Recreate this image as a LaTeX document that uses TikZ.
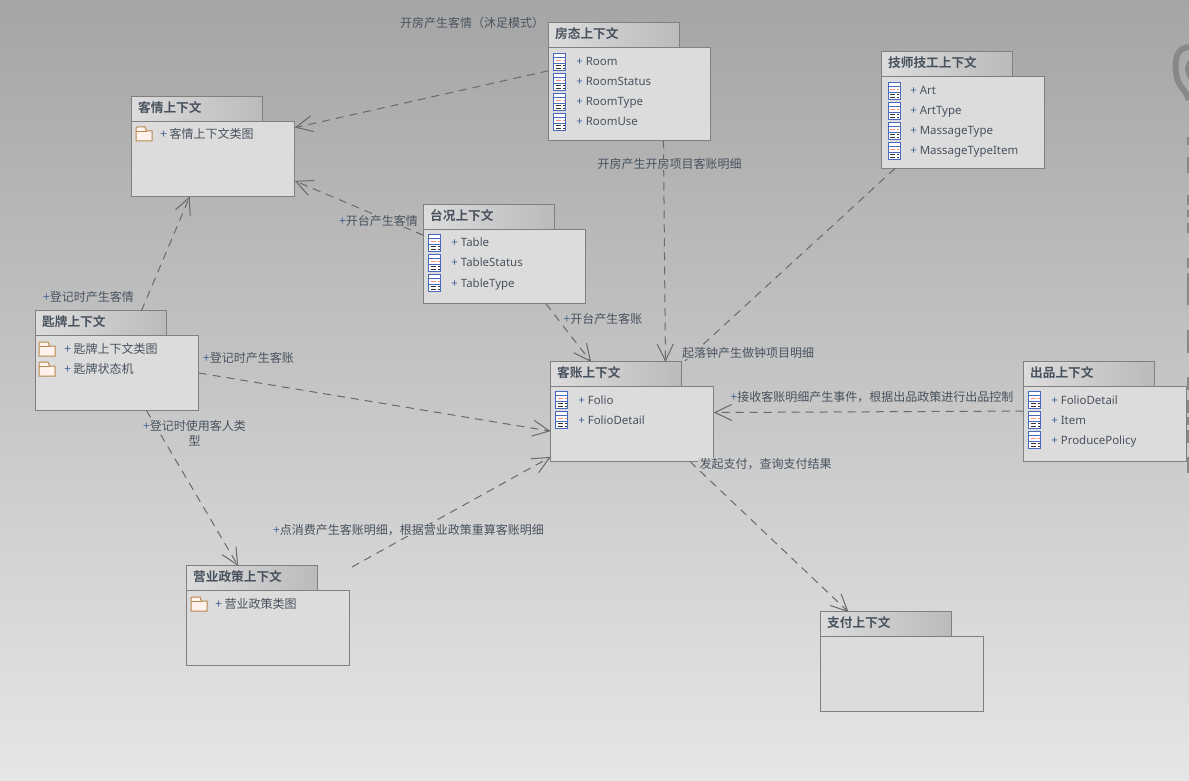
\documentclass[tikz,border=0pt]{standalone}
\usepackage{fontspec}
\usetikzlibrary{arrows.meta}
\setmainfont{Noto Sans}
\newfontfamily\cjk{Noto Sans CJK SC}
\newfontfamily\cjkb{Noto Sans CJK SC Bold}
\definecolor{ink}{RGB}{72,82,94}
\definecolor{plusblue}{RGB}{70,100,150}
\definecolor{edge}{RGB}{128,128,128}
\definecolor{conn}{RGB}{105,105,105}
\definecolor{bodyfill}{RGB}{220,220,220}
\definecolor{iconblue}{RGB}{70,105,190}
\definecolor{foldertan}{RGB}{185,135,80}
\definecolor{folderfill}{RGB}{255,241,235}
\definecolor{scrapgray}{RGB}{136,136,136}
\tikzset{
  pkgbody/.style={draw=edge,line width=.75pt,fill=bodyfill,rectangle,outer sep=0pt,inner sep=0pt,minimum width=122.5pt,anchor=north west},
  narrowbody/.style={minimum width=121.75pt},
  pkgtab/.style={draw=edge,line width=.75pt,left color=bodyfill,right color=black!27,rectangle,outer sep=0pt,inner ysep=0pt,inner xsep=5pt,minimum height=18.4pt,text width=88.6pt,text height=8pt,text depth=3.2pt,align=left,anchor=south west,text=ink,font=\cjkb\fontsize{9.5}{11}\selectfont},
  rowtext/.style={anchor=base west,inner sep=0pt,text=ink,font=\fontsize{8.6}{10}\selectfont},
  rowcjk/.style={anchor=west,inner sep=0pt,text=ink,font=\cjk\fontsize{9}{10}\selectfont},
  lab/.style={inner xsep=1pt,inner ysep=0.5pt,text=ink,font=\cjk\fontsize{9}{11}\selectfont,fill={rgb,255:red,#1;green,#1;blue,#1}},
  labnofill/.style={inner xsep=1pt,inner ysep=0.5pt,text=ink,font=\cjk\fontsize{9}{11}\selectfont},
  dep/.style={draw=conn,line width=.75pt,dash pattern=on 6pt off 4.5pt,-{Straight Barb[length=12.5pt,width=12pt,line width=.75pt]}},
  depplain/.style={draw=conn,line width=.75pt,dash pattern=on 6pt off 4.5pt},
}
\newcommand{\plussign}{\textcolor{plusblue}{+}}
\newcommand{\classtext}{}
\newcommand{\classrow}[4]{% name, icon x, text x, y
  \begin{scope}[shift={(#2,#4+0.8)}]
    \draw[draw=iconblue,fill=white,line width=.7pt] (0,-8.5) rectangle (12,8.5);
    \draw[draw=iconblue,line width=.5pt] (0,-4.5) -- (12,-4.5) (0,1.5) -- (12,1.5);
    \draw[red!45,line width=.6pt] (2,-1.5) -- (7,-1.5) (9,-1.5) -- (11,-1.5);
    \draw[black!80,line width=.6pt] (2,4) -- (7,4) (9,4) -- (11,4) (2,6.5) -- (7,6.5) (9,6.5) -- (11,6.5);
  \end{scope}
  \node[rowtext] (#1) at (#3,#4+5) {\plussign\ \classtext};
}
\newcommand{\folderrow}[5]{% name, icon x, y, text x, text
  \draw[draw=foldertan,fill=folderfill,line width=.75pt,shift={(#2,#3)}] (0,-3) -- (0,-6) -- (1,-7) -- (9,-7) -- (10.5,-3) -- (16,-3) -- (16,7) -- (0,7) -- cycle;
  \draw[draw=foldertan,line width=.5pt,shift={(#2,#3)}] (0,-3) -- (10.5,-3);
  \node[rowcjk] (#1) at (#4,#3) {\plussign\ #5};
}
\begin{document}
\begin{tikzpicture}[x=.75pt,y=-.75pt]
\useasboundingbox (0,0) rectangle (1189,781);
\shade[top color={rgb,255:red,165;green,165;blue,165},bottom color={rgb,255:red,230;green,230;blue,230}] (0,0) rectangle (1189,781);

% partial shapes at the right edge
\begin{scope}
  \clip (0,0) rectangle (1189,781);
  \draw[scrapgray,line width=4.4pt] (1192,47) .. controls (1176,46) and (1174,60) .. (1176.5,76) .. controls (1178,86) and (1186,90) .. (1189,100);
  \draw[scrapgray,line width=3pt] (1192,60) .. controls (1186,64) and (1185,72) .. (1192,80);
  \draw[scrapgray,line width=2pt] (1188.5,137) -- (1188.5,145) (1188.5,157) -- (1188.5,173) (1188.5,195) -- (1188.5,205) (1188.5,210) -- (1188.5,217) (1188.5,223) -- (1188.5,233) (1188.5,258) -- (1188.5,268) (1188.5,273) -- (1188.5,305) (1188.5,330) -- (1188.5,353) (1188.5,377) -- (1188.5,390) (1188.5,400) -- (1188.5,413) (1188.5,417) -- (1188.5,425) (1188.5,430) -- (1188.5,443) (1188.5,457) -- (1188.5,473);
\end{scope}

% packages
\begin{scope}[shift={(0.5,0.5)}]
\node[pkgbody,narrowbody,minimum height=69.75pt] (fangtai) at (548,47) {};
\node[pkgtab] (fangtaiT) at (fangtai.north west) {房态上下文};
\node[pkgbody,minimum height=69pt] (jishi) at (881,76) {};
\node[pkgtab] (jishiT) at (jishi.north west) {技师技工上下文};
\node[pkgbody,minimum height=56.25pt] (keqing) at (131,121) {};
\node[pkgtab] (keqingT) at (keqing.north west) {客情上下文};
\node[pkgbody,narrowbody,minimum height=55.5pt] (taikuang) at (423,229) {};
\node[pkgtab] (taikuangT) at (taikuang.north west) {台况上下文};
\node[pkgbody,minimum height=56.25pt] (shipai) at (35,335) {};
\node[pkgtab] (shipaiT) at (shipai.north west) {匙牌上下文};
\node[pkgbody,minimum height=56.25pt] (kezhang) at (550,386) {};
\node[pkgtab] (kezhangT) at (kezhang.north west) {客账上下文};
\node[pkgbody,minimum height=56.25pt] (chupin) at (1023,386) {};
\node[pkgtab] (chupinT) at (chupin.north west) {出品上下文};
\node[pkgbody,minimum height=56.25pt] (yingye) at (186,590) {};
\node[pkgtab] (yingyeT) at (yingye.north west) {营业政策上下文};
\node[pkgbody,minimum height=56.25pt] (zhifu) at (820,636) {};
\node[pkgtab] (zhifuT) at (zhifu.north west) {支付上下文};
\end{scope}

% rows
\renewcommand{\classtext}{Room}\classrow{rRoom}{553.5}{576}{61}
\renewcommand{\classtext}{RoomStatus}\classrow{rRoomStatus}{553.5}{576}{81}
\renewcommand{\classtext}{RoomType}\classrow{rRoomType}{553.5}{576}{101}
\renewcommand{\classtext}{RoomUse}\classrow{rRoomUse}{553.5}{576}{121}
\renewcommand{\classtext}{Art}\classrow{rArt}{888}{910}{90}
\renewcommand{\classtext}{ArtType}\classrow{rArtType}{888}{910}{110}
\renewcommand{\classtext}{MassageType}\classrow{rMassageType}{888}{910}{130}
\renewcommand{\classtext}{MassageTypeItem}\classrow{rMassageTypeItem}{888}{910}{150}
\renewcommand{\classtext}{Table}\classrow{rTable}{428.5}{451}{242}
\renewcommand{\classtext}{TableStatus}\classrow{rTableStatus}{428.5}{451}{262}
\renewcommand{\classtext}{TableType}\classrow{rTableType}{428.5}{451}{282}
\renewcommand{\classtext}{Folio}\classrow{rFolio}{555.5}{578}{399}
\renewcommand{\classtext}{FolioDetail}\classrow{rFolioDetail}{555.5}{578}{419}
\renewcommand{\classtext}{FolioDetail}\classrow{rCpDetail}{1028.5}{1051}{399}
\renewcommand{\classtext}{Item}\classrow{rItem}{1028.5}{1051}{419}
\renewcommand{\classtext}{ProducePolicy}\classrow{rPolicy}{1028.5}{1051}{439}
\folderrow{rKeqing}{136}{134}{160}{客情上下文类图}
\folderrow{rShipaiA}{39}{349}{64}{匙牌上下文类图}
\folderrow{rShipaiB}{39}{369}{64}{匙牌状态机}
\folderrow{rYingye}{191}{604}{215}{营业政策类图}

% connectors
\coordinate (endSix) at (685,361);
\coordinate (startNine) at (352,567);
\draw[dep] (fangtai.164.4) -- (keqing.21);
\draw[dep] (taikuang.159.8) -- (keqing.-15.3);
\draw[dep] (shipaiT.17.8) -- (keqing.-122.6);
\draw[dep] (fangtai.-54.2) -- (kezhangT.14.9);
\draw[dep] (taikuang.-42.4) -- (kezhangT.154.3);
\draw[depplain] (jishi.214.9) -- (endSix);
\draw[dep] (shipai.east) -- (kezhang.185.2);
\draw[dep] (shipai.-52.3) -- (yingyeT.139.2);
\draw[dep] (startNine) -- (kezhang.202.2);
\draw[dep] (chupin.171.3) -- (kezhang.8.7);
\draw[dep] (kezhang.-33.8) -- (zhifuT.162.2);

% labels
\node[lab=168] (l1) at (472,23) {开房产生客情（沐足模式）};
\node[lab=179] (l2) at (669.5,164) {开房产生开房项目客账明细};
\node[lab=184] (l3) at (378.5,221) {\plussign 开台产生客情};
\node[lab=192] (l4) at (603,319) {\plussign 开台产生客账};
\node[lab=190] (l5) at (88.5,297) {\plussign 登记时产生客情};
\node[lab=195] (l6) at (248.5,358) {\plussign 登记时产生客账};
\node[lab=195] (l7) at (748,353) {起落钟产生做钟项目明细};
\node[lab=198] (l8) at (872,397) {\plussign 接收客账明细产生事件，根据出品政策进行出品控制};
\node[lab=201] (l9bg) at (194.5,425) {\phantom{\plussign 登记时使用客人类}};
\node[labnofill,align=center] (l9) at (194.5,433) {\plussign 登记时使用客人类\\型};
\node[lab=204] (l10) at (765.5,464) {发起支付，查询支付结果};
\node[lab=209] (l11) at (408.5,530) {\plussign 点消费产生客账明细，根据营业政策重算客账明细};
\end{tikzpicture}
\end{document}
